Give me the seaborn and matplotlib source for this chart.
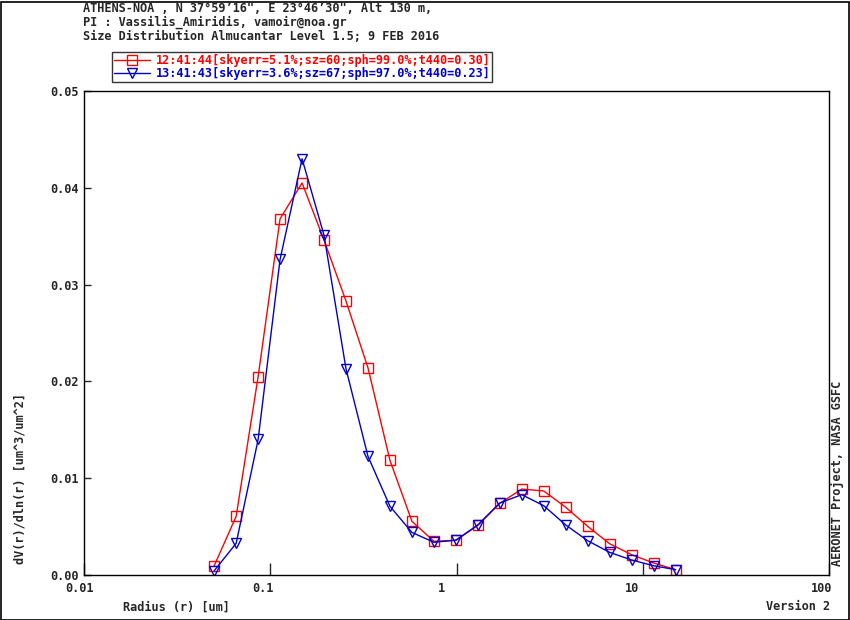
import numpy as np
import pandas as pd
import matplotlib
matplotlib.use("Agg")
import matplotlib.pyplot as plt
from matplotlib.lines import Line2D
from matplotlib.patches import Rectangle
from matplotlib.transforms import offset_copy
import seaborn as sns

# ---------------- data ----------------
radius = [0.05, 0.0656, 0.0861, 0.1129, 0.1482, 0.1944, 0.2551, 0.3347,
          0.4392, 0.5762, 0.7561, 0.9920, 1.3016, 1.7078, 2.2407, 2.9400,
          3.8575, 5.0613, 6.6407, 8.7131, 11.4323, 15.0]
dv_1241 = [0.00095, 0.00606, 0.0205, 0.0368, 0.0405, 0.0346, 0.0283, 0.0214,
           0.01185, 0.00555, 0.00348, 0.00358, 0.00513, 0.0074, 0.00888, 0.00868,
           0.0070, 0.00503, 0.00323, 0.0021, 0.00124, 0.00055]
dv_1341 = [0.00044, 0.00327, 0.0140, 0.0326, 0.0430, 0.0351, 0.0213, 0.01226,
           0.0071, 0.0044, 0.00338, 0.0036, 0.00517, 0.00744, 0.0083, 0.00716,
           0.00517, 0.00354, 0.00234, 0.00155, 0.00096, 0.00055]
labels = ["12:41:44[skyerr=5.1%;sz=60;sph=99.0%;t440=0.30]",
          "13:41:43[skyerr=3.6%;sz=67;sph=97.0%;t440=0.23]"]
x_ticks = [0.01, 0.1, 1, 10, 100]
x_ticklabels = ["0.01", "0.1", "1", "10", "100"]
y_ticks = [0.0, 0.01, 0.02, 0.03, 0.04, 0.05]
header = ["ATHENS-NOA , N 37\u00b059\u201916\", E 23\u00b046\u201930\", Alt 130 m,",
          "PI : Vassilis_Amiridis, vamoir@noa.gr",
          "Size Distribution Almucantar Level 1.5; 9 FEB 2016"]

RED = "#ff0000"
BLUE = "#0000cc"

sns.set_style("white")
plt.rcParams["font.family"] = ["DejaVu Sans Mono"]
plt.rcParams["font.weight"] = "bold"
FS = 8.6

df = pd.concat([
    pd.DataFrame({"radius": radius, "dv": dv_1241, "series": labels[0]}),
    pd.DataFrame({"radius": radius, "dv": dv_1341, "series": labels[1]}),
])

W, H = 850, 620
fig = plt.figure(figsize=(W / 100, H / 100), dpi=100)
fig.subplots_adjust(left=84 / W, right=829 / W, top=1 - 91 / H, bottom=1 - 575 / H)
ax = fig.add_subplot(111)

for lab, col, mk, ms in zip(labels, [RED, BLUE], ["s", "v"], [6.5, 7]):
    sns.lineplot(data=df[df["series"] == lab], x="radius", y="dv", ax=ax,
                 color=col, marker=mk, markersize=ms, markerfacecolor="none",
                 markeredgecolor=col, markeredgewidth=1.0, linewidth=1.0,
                 sort=False, errorbar=None, legend=False)

ax.set_xscale("log")
ax.set_xlim(0.01, 100)
ax.set_ylim(0, 0.05)
ax.set_xticks(x_ticks)
ax.set_xticklabels([])
ax.minorticks_off()
ax.set_yticks(y_ticks)
ax.set_yticklabels([f"{v:.2f}" for v in y_ticks])
ax.tick_params(axis="x", direction="in", length=9, width=1,
               bottom=True, top=False)
ax.tick_params(axis="y", direction="in", length=5, width=1, pad=4,
               labelsize=FS, left=True, right=False)
for lbl in ax.get_yticklabels():
    lbl.set_fontweight("bold")
ax.set_xlabel("")
ax.set_ylabel("")
for s in ax.spines.values():
    s.set_color("black")
    s.set_linewidth(1.0)

# x tick labels sit a little left of their ticks in the original
x_label_shift = [-4, -7, -15, -11, -7]
for xv, txt, dx in zip(x_ticks, x_ticklabels, x_label_shift):
    tr = offset_copy(ax.get_xaxis_transform(), fig=fig, x=dx * 0.72, y=-13 * 0.72,
                     units="points")
    ax.text(xv, 0, txt, transform=tr, ha="center", va="center",
            fontsize=FS, fontweight="bold", clip_on=False)

# header lines
for i, line in enumerate(header):
    fig.text(83 / W, 1 - (9 + 13.5 * i) / H, line, ha="left", va="center",
             fontsize=FS, fontweight="bold")

# legend above the axes
handles = [Line2D([], [], color=RED, marker="s", markersize=6.5, mfc="none",
                  mec=RED, lw=1.0),
           Line2D([], [], color=BLUE, marker="v", markersize=7, mfc="none",
                  mec=BLUE, lw=1.0)]
leg = fig.legend(handles, labels, loc="upper left",
                 bbox_to_anchor=(112 / W, 1 - 52 / H), borderaxespad=0,
                 frameon=True, fancybox=False, edgecolor="black",
                 labelcolor="linecolor", handlelength=3.0,
                 handletextpad=0.5, labelspacing=0.05, borderpad=0.15,
                 numpoints=1, prop={"weight": "bold", "size": FS})
leg.get_frame().set_linewidth(1.0)

# axis texts
fig.text(20 / W, 1 - 479 / H, "dV(r)/dln(r) [um^3/um^2]", rotation=90,
         ha="center", va="center", fontsize=FS, fontweight="bold")
fig.text(123 / W, 1 - 607 / H, "Radius (r) [um]", ha="left", va="center",
         fontsize=FS, fontweight="bold")
fig.text(830 / W, 1 - 607 / H, "Version 2", ha="right", va="center",
         fontsize=FS, fontweight="bold")
fig.text(838 / W, 1 - 473 / H, "AERONET Project, NASA GSFC", rotation=90,
         ha="center", va="center", fontsize=FS, fontweight="bold")

# outer frame
fig.patches.append(Rectangle((0.5 / W, 0.5 / H), 1 - 2 / W, 1 - 2 / H,
                             transform=fig.transFigure, fill=False,
                             edgecolor="black", linewidth=1.2))

fig.savefig("out.png", dpi=100, facecolor="white")
